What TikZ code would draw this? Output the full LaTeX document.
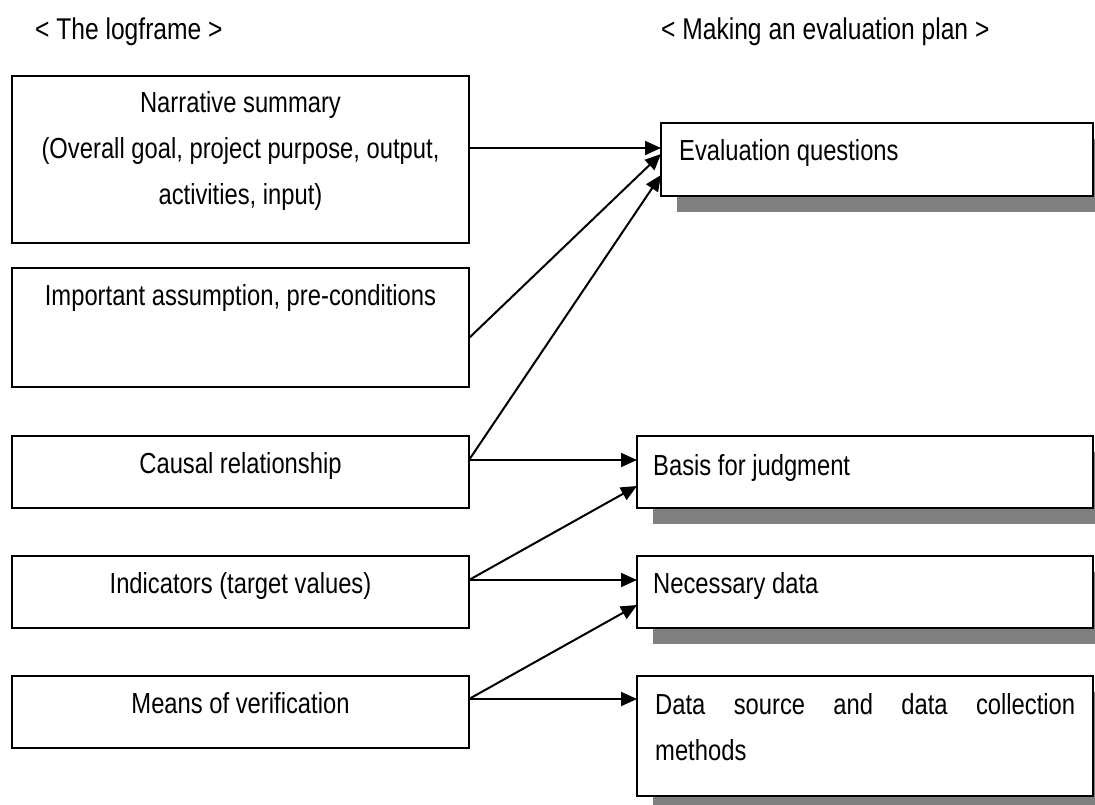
\documentclass[tikz,border=0pt]{standalone}
\usepackage{fontspec}
\setmainfont{Liberation Sans}[FakeStretch=0.82]
\usetikzlibrary{arrows.meta,calc,backgrounds}
\definecolor{shadowgray}{RGB}{128,128,128}
\begin{document}
\begin{tikzpicture}[x=1pt,y=-1pt,
 box/.style={draw,line width=2pt,fill=white,anchor=north west,inner sep=0pt,outer sep=0pt},
 lbox/.style={box,minimum width=457pt},
 rbox/.style={box,minimum height=72pt},
 txt/.style={anchor=base,inner sep=0pt,font=\fontsize{29}{46}\selectfont},
 ltxt/.style={anchor=base west,inner sep=0pt,font=\fontsize{29}{46}\selectfont},
 ttxt/.style={anchor=base west,inner sep=0pt,font=\fontsize{30}{46}\selectfont},
 arr/.style={line width=2pt,-{Triangle[length=16pt,width=14pt]}}]
\useasboundingbox (0,0) rectangle (1095,805);

% titles
\node[ttxt] (t1) at (35,40) {< The logframe >};
\node[ttxt] (t2) at (661,40) {< Making an evaluation plan >};

% left boxes
\node[lbox,minimum height=167pt] (narr) at (12,76) {};
\node[lbox,minimum height=119pt] (imp) at (12,268) {};
\node[lbox,minimum height=72pt] (caus) at (12,436) {};
\node[lbox,minimum height=72pt] (ind) at (12,556) {};
\node[lbox,minimum height=72pt] (means) at (12,676) {};

\node[txt,text width=450pt] (narrT) at ($(narr.north)+(0,37)$)
  {\spaceskip=0pt\xspaceskip=0pt\centering Narrative summary\\(Overall goal, project purpose, output,\\activities, input)\par};
\node[txt] (impT) at ($(imp.north)+(0,37)$) {Important assumption, pre-conditions};
\node[txt] (causT) at ($(caus.north)+(0,37)$) {Causal relationship};
\node[txt] (indT) at ($(ind.north)+(0,37)$) {Indicators (target values)};
\node[txt] (meansT) at ($(means.north)+(0,37)$) {Means of verification};

% right boxes
\node[rbox,minimum width=432pt,minimum height=73pt] (eval) at (661,123) {};
\node[rbox,minimum width=456pt] (basis) at (637,436) {};
\node[rbox,minimum width=456pt] (nec) at (637,556) {};
\node[rbox,minimum width=456pt,minimum height=120pt] (data) at (637,676) {};

\begin{scope}[on background layer]
\foreach \b in {eval,basis,nec,data}{
  \fill[shadowgray] ($(\b.north west)+(16,16)$) rectangle ($(\b.south east)+(16,16)$);
}
\end{scope}

\node[ltxt] (evalT) at ($(eval.north west)+(18,38)$) {Evaluation questions};
\node[ltxt] (basisT) at ($(basis.north west)+(16,39)$) {Basis for judgment};
\node[ltxt] (necT) at ($(nec.north west)+(16,37)$) {Necessary data};
\node[txt,anchor=base west,text width=420pt] (dataT) at ($(data.north west)+(18,38)$)
  {\noindent Data\hfill source\hfill and\hfill data\hfill collection\\methods\par};

% connectors
\draw[arr] ($(narr.north east)+(0,72)$) -- ($(eval.north west)+(0,25)$);
\draw[arr] ($(imp.north east)+(0,70)$) -- ($(eval.north west)+(0,31)$);
\draw[arr] ($(caus.north east)+(0,24)$) -- ($(eval.north west)+(0,52)$);
\draw[arr] ($(caus.north east)+(0,24)$) -- ($(basis.north west)+(0,24)$);
\draw[arr] ($(ind.north east)+(0,24)$) -- ($(basis.north west)+(0,50)$);
\draw[arr] ($(ind.north east)+(0,24)$) -- ($(nec.north west)+(0,24)$);
\draw[arr] ($(means.north east)+(0,23)$) -- ($(nec.north west)+(0,49)$);
\draw[arr] ($(means.north east)+(0,23)$) -- ($(data.north west)+(0,23)$);
\end{tikzpicture}
\end{document}
